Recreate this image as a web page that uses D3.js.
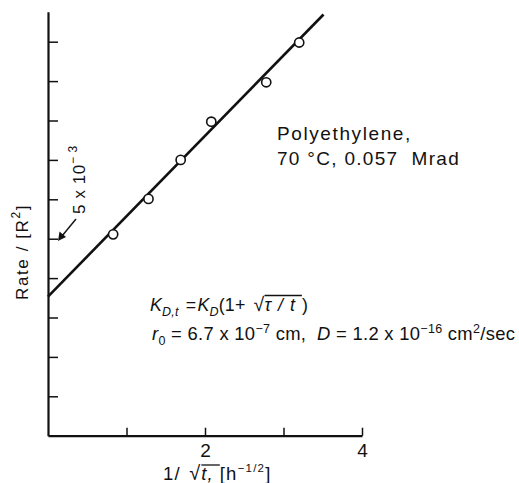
<!DOCTYPE html>
<html>
<head>
<meta charset="utf-8">
<script src="https://cdn.jsdelivr.net/npm/d3@7"></script>
<style>
  html, body { margin: 0; padding: 0; background: #fff; }
  svg { display: block; }
  text { font-family: "Liberation Sans", Arial, sans-serif; fill: #111; white-space: pre; }
</style>
</head>
<body>
<svg id="chart" width="519" height="483"></svg>
<script>
// Measured rate (in units of 10^-3) against 1/sqrt(t) in h^-1/2
const invSqrtT = [0.83, 1.28, 1.69, 2.08, 2.78, 3.20];
const rate     = [5.11, 6.01, 7.00, 7.97, 8.97, 9.98];

// Straight-line fit drawn through the data (end points)
const fitX = [0, 3.51];
const fitY = [3.53, 10.69];

// Axis ticks
const xTicks = [1, 2, 3, 4];
const xTickLabels = ["", "2", "", "4"];
const yTicks = [1, 2, 3, 4, 5, 6, 7, 8, 9, 10];
const yTop = 10.76;

const svg = d3.select("#chart");
const ink = "#111";

const x = d3.scaleLinear().domain([0, 4]).range([48, 362]);
const y = d3.scaleLinear().domain([0, 10]).range([435.7, 41.7]);

// x axis, ticks pointing inward (up)
const gx = svg.append("g").attr("transform", `translate(0,${y(0)})`)
  .call(d3.axisBottom(x).tickValues(xTicks).tickSize(-8).tickSizeOuter(0)
        .tickFormat((d, i) => xTickLabels[i]));
gx.select(".domain").attr("stroke", ink).attr("stroke-width", 2.2);
gx.selectAll(".tick line").attr("stroke", ink).attr("stroke-width", 1.5);
gx.selectAll(".tick text").attr("fill", ink).attr("font-size", 19)
  .attr("font-family", "'Liberation Sans', Arial, sans-serif")
  .attr("dy", null).attr("y", 21);

// y axis, ticks pointing inward (right), no labels
const yAxisScale = y.copy().domain([0, yTop]).range([y(0), y(yTop)]);
const gy = svg.append("g").attr("transform", `translate(${x(0)},0)`)
  .call(d3.axisLeft(yAxisScale).tickValues(yTicks).tickSize(-10).tickSizeOuter(0)
        .tickFormat(""));
gy.select(".domain").attr("stroke", ink).attr("stroke-width", 2.2);
gy.selectAll(".tick line").attr("stroke", ink).attr("stroke-width", 1.5);

// fitted line
const fit = fitX.map((v, i) => [v, fitY[i]]);
svg.append("path")
  .attr("d", d3.line().x(d => x(d[0])).y(d => y(d[1]))(fit))
  .attr("fill", "none").attr("stroke", ink).attr("stroke-width", 2.6);

// data points as open circles
svg.selectAll("circle.pt").data(invSqrtT).join("circle")
  .attr("class", "pt")
  .attr("cx", d => x(d)).attr("cy", (d, i) => y(rate[i]))
  .attr("r", 4.6).attr("fill", "#fff").attr("stroke", ink).attr("stroke-width", 1.6);

// rich text: a row of pieces, each measured and placed after the previous
function rich(g, x0, y0, pieces, opts = {}) {
  let cx = x0;
  const bars = [];
  pieces.forEach(p => {
    const t = g.append("text")
      .attr("x", cx).attr("y", y0 + (p.dy || 0))
      .attr("font-size", p.fs || opts.fs || 17)
      .attr("font-style", p.it ? "italic" : "normal")
      .attr("letter-spacing", p.ls != null ? p.ls : (opts.ls || 0))
      .text(p.s);
    const w = t.node().getComputedTextLength();
    if (p.bar) bars.push([cx + (p.barPad || 0), cx + w, p.barY]);
    cx += w + (p.gap || 0);
  });
  bars.forEach(b => {
    g.append("line").attr("x1", b[0]).attr("x2", b[1])
      .attr("y1", y0 + b[2]).attr("y2", y0 + b[2])
      .attr("stroke", ink).attr("stroke-width", 1.3);
  });
  return cx;
}

// y axis title (rotated)
const gyt = svg.append("g").attr("transform", "translate(28,300) rotate(-90)");
rich(gyt, 0, 0, [
  { s: "Rate / [R" },
  { s: "2", fs: 12, dy: -8 },
  { s: "]" }
], { fs: 17, ls: 1.6 });

// value marker on the y axis
const gm = svg.append("g").attr("transform", "translate(85,214) rotate(-90)");
rich(gm, 0, 0, [
  { s: "5 x 10" },
  { s: "\u2212 3", fs: 12, dy: -8 }
], { fs: 17, ls: 0.6 });
svg.append("line").attr("x1", 76).attr("y1", 219).attr("x2", 62).attr("y2", 236)
  .attr("stroke", ink).attr("stroke-width", 1.4);
svg.append("path").attr("d", "M58,241 L59.5,231.5 L66,237 Z").attr("fill", ink);

// sample description
svg.append("text").attr("x", 277).attr("y", 140).attr("font-size", 19)
  .attr("letter-spacing", 1.6).text("Polyethylene,");
svg.append("text").attr("x", 277).attr("y", 165).attr("font-size", 19)
  .attr("letter-spacing", 1.3).text("70 \u00B0C, 0.057  Mrad");

// rate-constant relation
const gf1 = svg.append("g");
rich(gf1, 150, 311, [
  { s: "K", it: true },
  { s: "D,t", it: true, fs: 12.5, dy: 5, gap: 2 },
  { s: " =", gap: 1 },
  { s: "K", it: true },
  { s: "D", it: true, fs: 12.5, dy: 5 },
  { s: "(1+ ", gap: 3 },
  { s: "\u221A", fs: 19.5 },
  { s: "\u03C4 / t ", it: true, bar: true, barY: -15.5, ls: 1 },
  { s: ")" }
], { fs: 17.8, ls: 0.2 });

// parameters
const gf2 = svg.append("g");
rich(gf2, 152, 340, [
  { s: "r", it: true },
  { s: "0", fs: 12.5, dy: 5 },
  { s: " = 6.7 x 10" },
  { s: "\u22127", fs: 12.5, dy: -7 },
  { s: " cm,  " },
  { s: "D", it: true },
  { s: " = 1.2 x 10" },
  { s: "\u221216", fs: 12.5, dy: -7 },
  { s: " cm" },
  { s: "2", fs: 12.5, dy: -7 },
  { s: "/sec" }
], { fs: 18.4, ls: 0.3 });

// x axis title
const gxt = svg.append("g");
rich(gxt, 163, 480, [
  { s: "1/ ", gap: 2 },
  { s: "\u221A", fs: 20 },
  { s: "t, ", it: true, bar: true, barY: -15, ls: 1 },
  { s: "[h" },
  { s: "\u22121/2", fs: 11.5, dy: -8 },
  { s: "]" }
], { fs: 18.5, ls: 1.2 });
</script>
</body>
</html>
